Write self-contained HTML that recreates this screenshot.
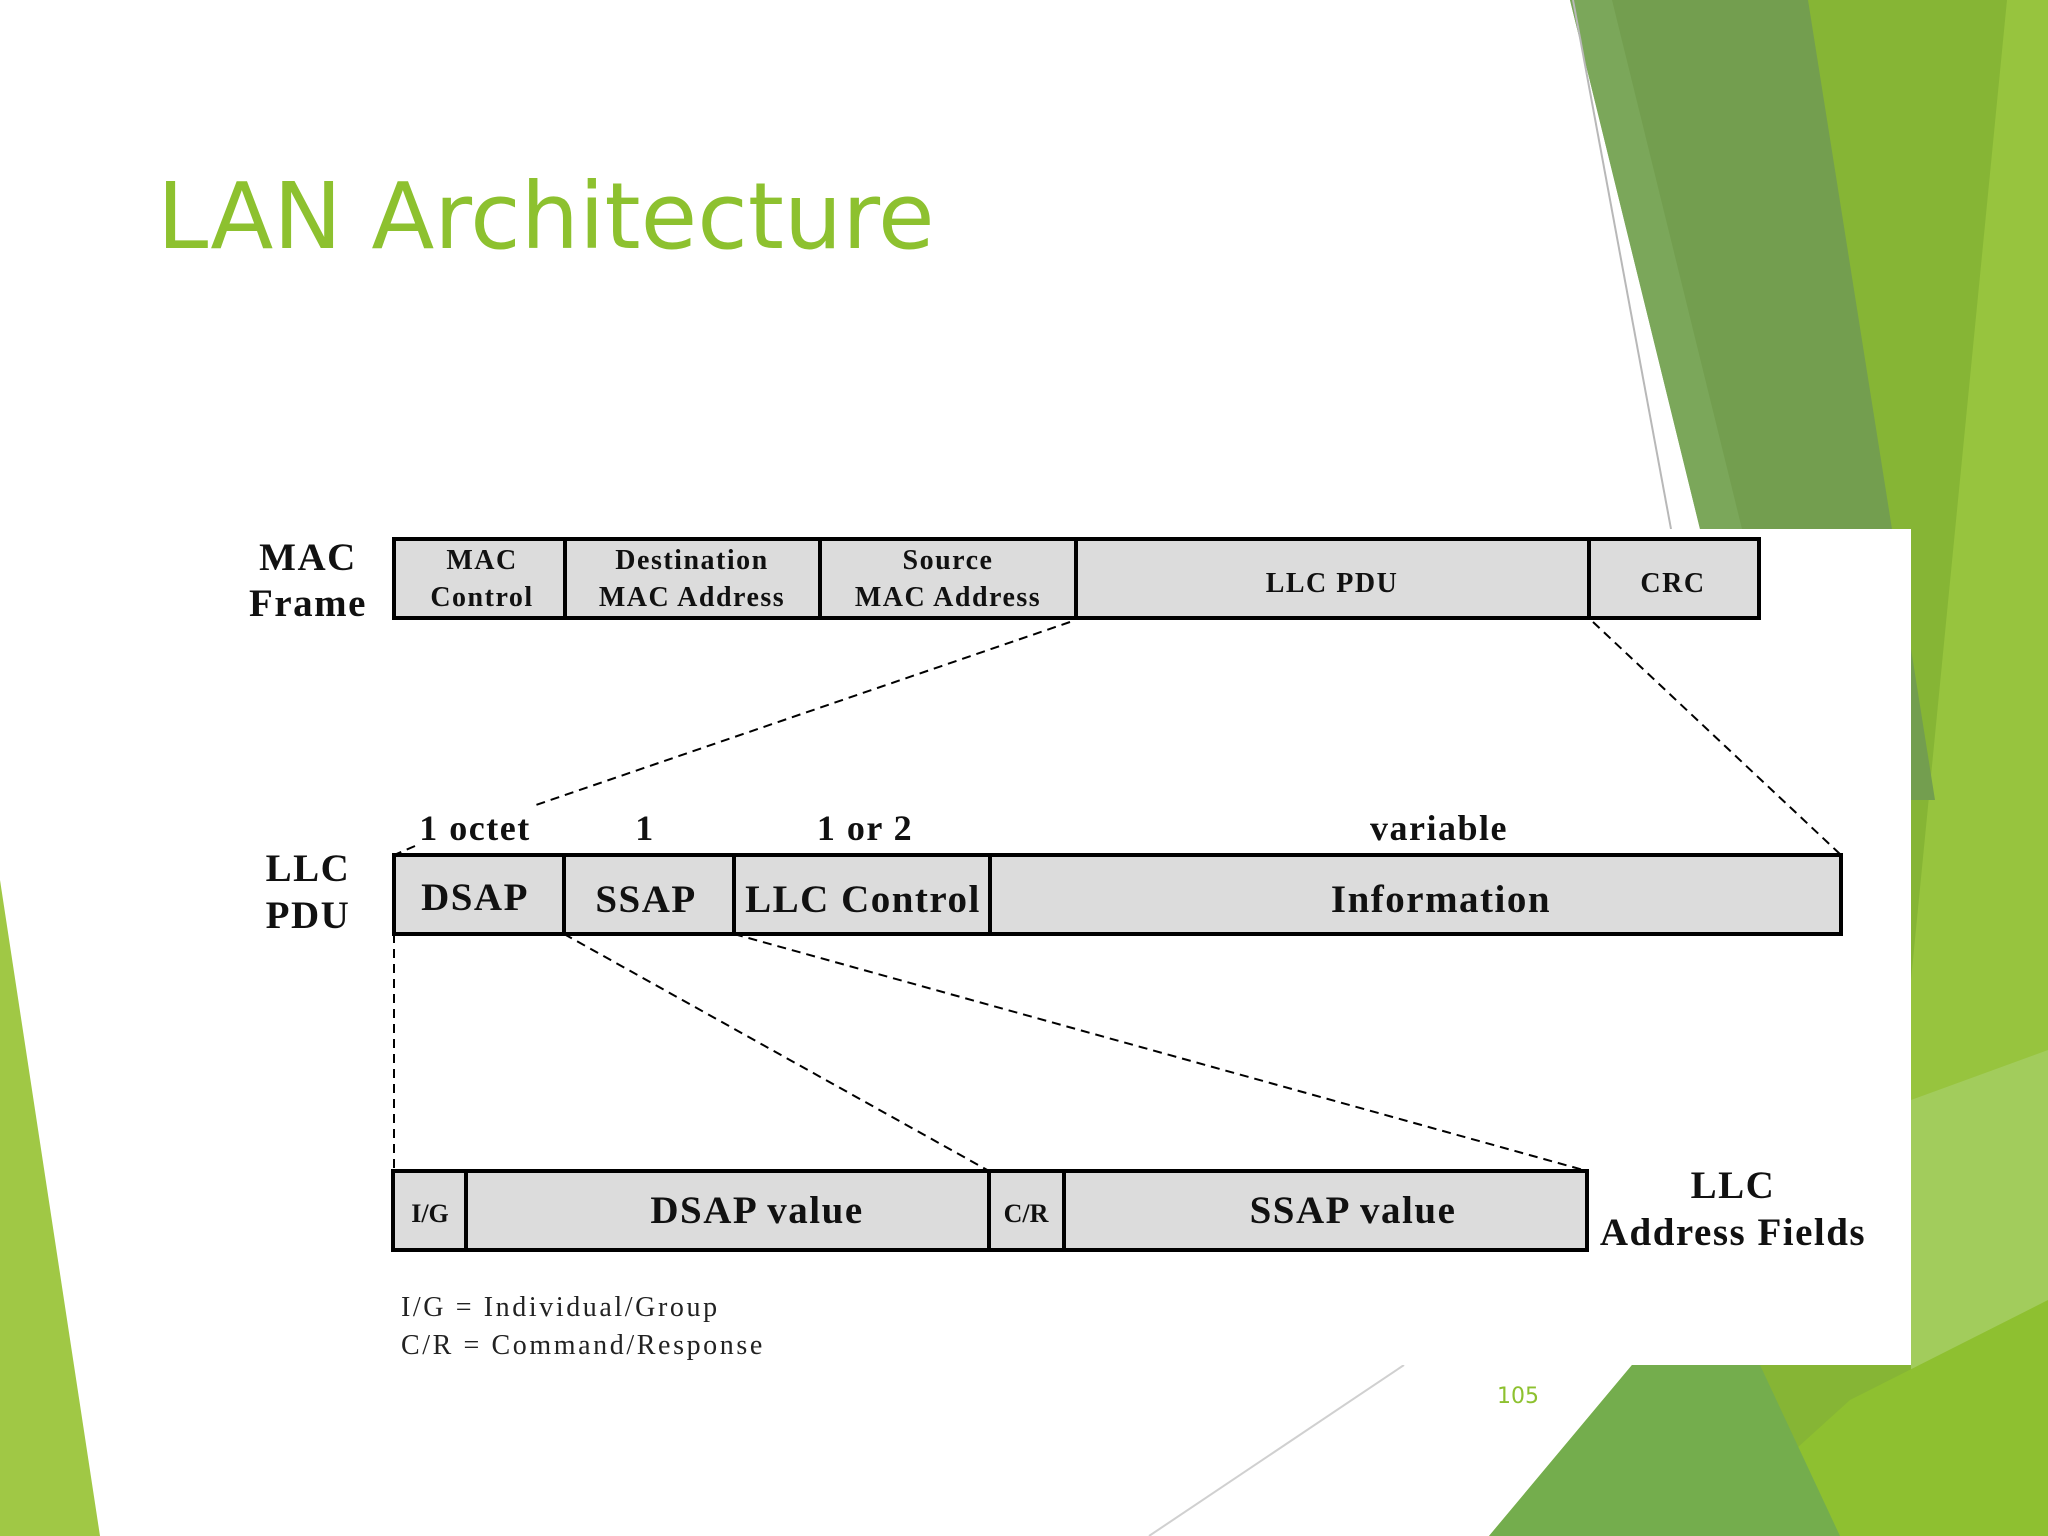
<!DOCTYPE html>
<html><head><meta charset="utf-8"><style>
html,body{margin:0;padding:0;background:#fff;}
svg{display:block;}
.b{font-family:"Liberation Serif",serif;font-weight:bold;fill:#111;}
</style></head><body>
<svg width="2048" height="1536" viewBox="0 0 2048 1536" xmlns="http://www.w3.org/2000/svg">
<rect width="2048" height="1536" fill="#fff"/>
<!-- right decoration -->
<polygon points="1808,0 2048,0 2048,1536 1489,1536 1632,1365 1700,529" fill="#86B535"/>
<polygon points="2007,0 2048,0 2048,1100 1911,1100 1911,980" fill="#97C43E"/>
<polygon points="1911,1100 2048,1050 2048,1370 1911,1370" fill="#A2CC5C"/>
<polygon points="1700,1536 2048,1536 2048,1300 1850,1400" fill="#8EC030"/>
<polygon points="1570,0 1808,0 1935,800 1911,800 1911,529 1700,529" fill="#739E4F"/>
<polygon points="1570,0 1612,0 1742,529 1700,529" fill="#7BA75A"/>
<polygon points="1489,1536 1840,1536 1760,1365 1632,1365" fill="#74AD4D"/>
<line x1="1573" y1="0" x2="1671" y2="529" stroke="#b8b8b8" stroke-width="2"/>
<line x1="1404" y1="1365" x2="1149" y2="1536" stroke="#d0d0d0" stroke-width="2"/>
<!-- left decoration -->
<polygon points="0,880 0,1536 100,1536" fill="#A0C845"/>
<!-- white panel -->
<rect x="180" y="529" width="1731" height="836" fill="#fff"/>
<!-- title -->
<text x="157" y="248" font-family="'DejaVu Sans','Liberation Sans',sans-serif" font-size="92" fill="#8DC12F">LAN Architecture</text>
<text x="1518" y="1403" text-anchor="middle" font-family="'DejaVu Sans','Liberation Sans',sans-serif" font-size="22" fill="#8DC12F">105</text>

<!-- dashed connectors -->
<g stroke="#000" stroke-width="2" stroke-dasharray="9,6" fill="none">
<line x1="1070" y1="622" x2="533" y2="806"/>
<line x1="415" y1="846" x2="394" y2="855"/>
<line x1="1593" y1="622" x2="1841" y2="855"/>
<line x1="394" y1="934" x2="394" y2="1171"/>
<line x1="564" y1="934" x2="989" y2="1171"/>
<line x1="734" y1="934" x2="1587" y2="1171"/>
</g>

<!-- MAC frame -->
<rect x="394" y="539" width="1365" height="79" fill="#DCDCDC" stroke="#000" stroke-width="4"/>
<g stroke="#000" stroke-width="4">
<line x1="565" y1="539" x2="565" y2="618"/>
<line x1="820" y1="539" x2="820" y2="618"/>
<line x1="1076" y1="539" x2="1076" y2="618"/>
<line x1="1589" y1="539" x2="1589" y2="618"/>
</g>
<g class="b" font-size="28" text-anchor="middle" letter-spacing="1.5">
<text x="482" y="569">MAC</text><text x="482" y="606">Control</text>
<text x="692" y="569">Destination</text><text x="692" y="606">MAC Address</text>
<text x="948" y="569">Source</text><text x="948" y="606">MAC Address</text>
<text x="1332" y="592">LLC PDU</text>
<text x="1673" y="592">CRC</text>
</g>
<g class="b" font-size="39" text-anchor="middle" letter-spacing="1.5">
<text x="308" y="570">MAC</text><text x="308" y="616">Frame</text>
<text x="308" y="881">LLC</text><text x="308" y="928">PDU</text>
<text x="1733" y="1198">LLC</text><text x="1733" y="1245">Address Fields</text>
</g>

<!-- LLC PDU -->
<rect x="394" y="855" width="1447" height="79" fill="#DCDCDC" stroke="#000" stroke-width="4"/>
<g stroke="#000" stroke-width="4">
<line x1="564" y1="855" x2="564" y2="934"/>
<line x1="734" y1="855" x2="734" y2="934"/>
<line x1="990" y1="855" x2="990" y2="934"/>
</g>
<g class="b" font-size="39" text-anchor="middle" letter-spacing="1.5">
<text x="475" y="910">DSAP</text>
<text x="646" y="912">SSAP</text>
<text x="863" y="912">LLC Control</text>
<text x="1441" y="912">Information</text>
</g>
<g class="b" font-size="36" text-anchor="middle" letter-spacing="1.5">
<text x="475" y="840">1 octet</text>
<text x="645" y="840">1</text>
<text x="865" y="840">1 or 2</text>
<text x="1439" y="840">variable</text>
</g>

<!-- address fields -->
<rect x="393" y="1171" width="1194" height="79" fill="#DCDCDC" stroke="#000" stroke-width="4"/>
<g stroke="#000" stroke-width="4">
<line x1="466" y1="1171" x2="466" y2="1250"/>
<line x1="989" y1="1171" x2="989" y2="1250"/>
<line x1="1064" y1="1171" x2="1064" y2="1250"/>
</g>
<g class="b" text-anchor="middle">
<text x="430" y="1222" font-size="26">I/G</text>
<text x="757" y="1223" font-size="39" letter-spacing="1.5">DSAP value</text>
<text x="1026" y="1222" font-size="26">C/R</text>
<text x="1353" y="1223" font-size="39" letter-spacing="1.5">SSAP value</text>
</g>
<g font-family="'Liberation Serif',serif" font-size="28" fill="#222" letter-spacing="2.6">
<text x="401" y="1316">I/G = Individual/Group</text>
<text x="401" y="1354">C/R = Command/Response</text>
</g>
</svg>
</body></html>
